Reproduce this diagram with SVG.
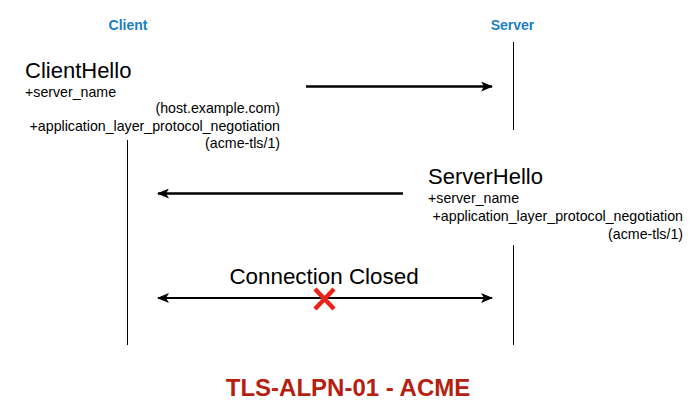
<svg xmlns="http://www.w3.org/2000/svg" width="700" height="415" viewBox="0 0 700 415">
<defs>
<marker id="ah" viewBox="0 0 12 10" refX="11" refY="5" markerWidth="12" markerHeight="10" markerUnits="userSpaceOnUse" orient="auto-start-reverse">
<path d="M0,0 L12,5 L0,10 L3,5 Z" fill="#000"/>
</marker>
</defs>
<style>
.hdr{font-family:"Liberation Sans",Arial,sans-serif;font-weight:bold;font-size:14px;fill:#1a7fc3}
.big{font-family:"Liberation Sans",Arial,sans-serif;font-size:22px;fill:#000}
.sm{font-family:"Liberation Sans",Arial,sans-serif;font-size:14.2px;fill:#000}
.life{stroke:#000;stroke-width:1;fill:none}
.msg{stroke:#000;stroke-width:2.5;fill:none;marker-end:url(#ah)}
.title{font-family:"Liberation Sans",Arial,sans-serif;font-weight:bold;font-size:24px;fill:#b5200f}
</style>
<rect width="700" height="415" fill="#fff"/>
<g id="client">
<text class="hdr" x="128" y="30" text-anchor="middle">Client</text>
<line class="life" x1="127.5" y1="140" x2="127.5" y2="345"/>
</g>
<g id="server">
<text class="hdr" x="512.5" y="30" text-anchor="middle">Server</text>
<line class="life" x1="513.5" y1="42" x2="513.5" y2="130"/>
<line class="life" x1="513.5" y1="245" x2="513.5" y2="345"/>
</g>
<g id="clienthello">
<text class="big" x="25" y="78">ClientHello</text>
<text class="sm" x="25" y="97">+server_name</text>
<text class="sm" x="280" y="113" text-anchor="end">(host.example.com)</text>
<text class="sm" x="280" y="131" text-anchor="end">+application_layer_protocol_negotiation</text>
<text class="sm" x="280" y="148" text-anchor="end">(acme-tls/1)</text>
</g>
<g id="serverhello">
<text class="big" x="428" y="184">ServerHello</text>
<text class="sm" x="428" y="203">+server_name</text>
<text class="sm" x="683" y="221" text-anchor="end">+application_layer_protocol_negotiation</text>
<text class="sm" x="683" y="239" text-anchor="end">(acme-tls/1)</text>
</g>
<g id="connectors">
<line class="msg" x1="306" y1="86.5" x2="492" y2="86.5"/>
<line class="msg" x1="403" y1="193.5" x2="158" y2="193.5"/>
<line x1="158" y1="298" x2="492" y2="298" stroke="#000" stroke-width="2" marker-start="url(#ah)" marker-end="url(#ah)"/>
</g>
<g id="closed">
<text class="big" x="324" y="284" text-anchor="middle" style="font-size:22.4px">Connection Closed</text>
<path d="M315,289 L334,309 M334,289 L315,309" stroke="#e8231a" stroke-width="4.5" fill="none"/>
</g>
<text class="title" x="348" y="396" text-anchor="middle">TLS-ALPN-01 - ACME</text>
</svg>
